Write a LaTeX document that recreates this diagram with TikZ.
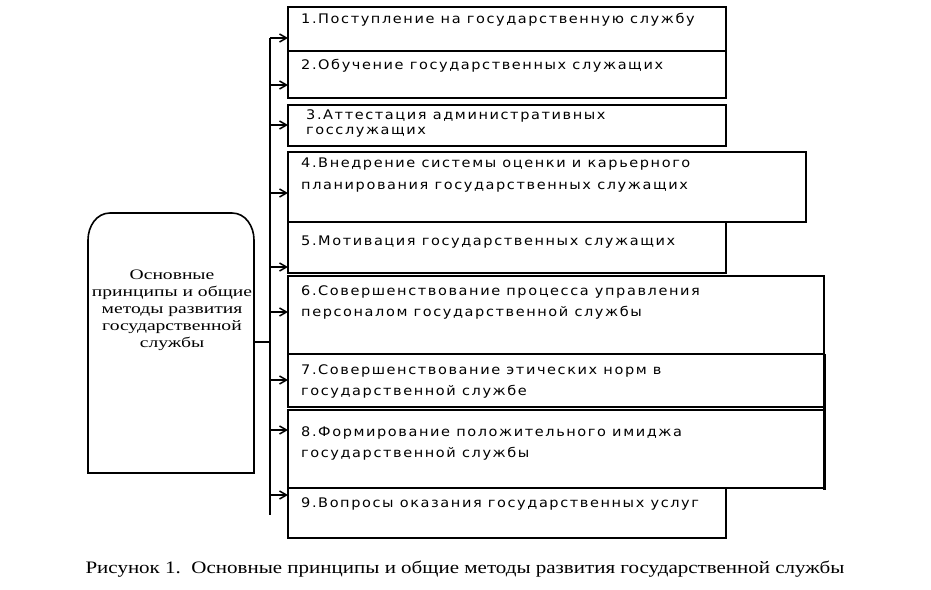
\documentclass[tikz,border=0pt]{standalone}
\usepackage{fontspec}
\setmainfont{Liberation Serif}
\newfontfamily\boxfont[LetterSpace=12,FakeStretch=1.1]{DejaVu Sans}
\newfontfamily\wideserif[FakeStretch=1.2]{Liberation Serif}
\newfontfamily\widerserif[FakeStretch=1.35]{Liberation Serif}
\usetikzlibrary{arrows.meta}
\begin{document}
\begin{tikzpicture}[x=1pt,y=-1pt,
  bx/.style={draw,line width=1.6pt},
  lbl/.style={anchor=north west,inner sep=0pt,font=\boxfont\fontsize{13.2}{21.5}\selectfont,align=left},
  arr/.style={-{Straight Barb[length=7pt,width=8pt]},line width=1.5pt}]
\useasboundingbox (0,0) rectangle (931,589);
\def\boxes{1/7/51/726/, 2/51/98/726/, 3/105/146/726/, 4/152/222/806/, 5/222/273/726/, 6/276/354/824/, 7/354/407/824/, 8/410/488/824/, 9/488/538/726/}
\foreach \n/\t/\b/\r/\z in \boxes {\draw[bx] (288,\t) rectangle (\r,\b) coordinate (b\n);}
\draw[line width=3pt] (824,354) -- (824,490);
\node[lbl] at (301,13) {1.Поступление на государственную службу};
\node[lbl] at (301,59) {2.Обучение государственных служащих};
\node[lbl] at (306,110) {3.Аттестация административных\\[-7pt]госслужащих};
\node[lbl] at (301,158) {4.Внедрение системы оценки и карьерного\\планирования государственных служащих};
\node[lbl] at (301,236) {5.Мотивация государственных служащих};
\node[lbl] at (301,285) {6.Совершенствование процесса управления\\персоналом государственной службы};
\node[lbl] at (301,364) {7.Совершенствование этических норм в\\государственной службе};
\node[lbl] at (301,426) {8.Формирование положительного имиджа\\государственной службы};
\node[lbl] at (301,497) {9.Вопросы оказания государственных услуг};
\draw[line width=1.6pt] (88,473) -- (88,240) to[out=90,in=180] (110,213) -- (232,213) to[out=0,in=90] (254,240) -- (254,473) -- cycle;
\node (L) [align=center,font=\widerserif\fontsize{14.5}{17}\selectfont,inner sep=0pt] at (172,310) {Основные\\принципы и общие\\методы развития\\государственной\\службы};
\coordinate (bus) at (270,342);
\draw[line width=1.3pt] (254,342) -- (bus);
\draw[line width=2pt] (270,38) -- (270,515);
\foreach \y in {38,85,125,193,267,312,380,430,495}{\draw[arr] (270,\y) -- (288,\y);}
\node[font=\wideserif\fontsize{17.5}{18}\selectfont] (cap) at (465,569) {Рисунок 1.\ \ Основные принципы и общие методы развития государственной службы};
\end{tikzpicture}
\end{document}
